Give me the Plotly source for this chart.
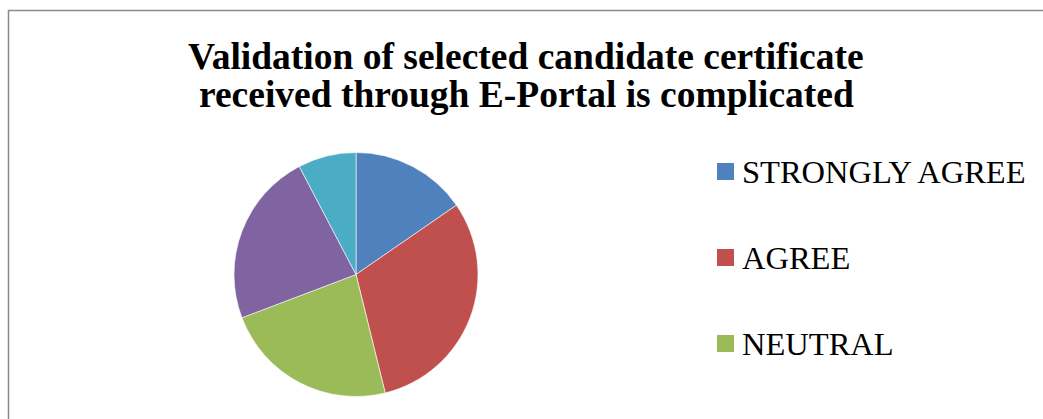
import plotly.graph_objects as go

# Data
categories = ["STRONGLY AGREE", "AGREE", "NEUTRAL", "DISAGREE", "STRONGLY DISAGREE"]
values = [12, 24, 18, 18, 6]
colors = ["#4F81BD", "#C0504D", "#9BBB59", "#8064A2", "#4BACC6"]
title_lines = ["Validation of selected candidate certificate",
               "received through E-Portal is complicated"]

W, H = 1043, 419
SERIF = "Liberation Serif"

def px_x(x):
    return x / W

def px_y(y):
    return 1 - y / H

cx, cy, r = 356, 274.5, 122

fig = go.Figure()
fig.add_trace(go.Pie(
    labels=categories, values=values,
    marker=dict(colors=colors, line=dict(color="white", width=0.6)),
    sort=False, direction="clockwise", rotation=0,
    textinfo="none", hoverinfo="label+value+percent",
    showlegend=False,
    domain=dict(x=[px_x(cx - r), px_x(cx + r)], y=[px_y(cy + r), px_y(cy - r)]),
))

shapes = []
annotations = []

# Chart frame (extends beyond visible area on right and bottom)
shapes.append(dict(type="rect", xref="paper", yref="paper",
                   x0=px_x(8.5), x1=1.05, y0=-0.1, y1=px_y(10.5),
                   line=dict(color="#8a8a8a", width=1.5), fillcolor="rgba(0,0,0,0)", layer="below"))

# Title (two lines, tight spacing)
title_y = [56, 94]
for line, yy in zip(title_lines, title_y):
    annotations.append(dict(text="<b>%s</b>" % line, xref="paper", yref="paper",
                            x=px_x(526), y=px_y(yy), xanchor="center", yanchor="middle",
                            showarrow=False,
                            font=dict(family=SERIF, size=37.5, color="black")))

# Legend (manual; only the first three entries fit in the visible area)
leg_y0 = 171.5
leg_gap = 86
for i, (cat, col) in enumerate(zip(categories[:3], colors[:3])):
    yc = leg_y0 + i * leg_gap
    shapes.append(dict(type="rect", xref="paper", yref="paper",
                       x0=px_x(717), x1=px_x(734), y0=px_y(yc + 8.5), y1=px_y(yc - 8.5),
                       line=dict(width=0), fillcolor=col))
    annotations.append(dict(text=cat, xref="paper", yref="paper",
                            x=px_x(740), y=px_y(yc), xanchor="left", yanchor="middle",
                            showarrow=False,
                            font=dict(family=SERIF, size=32.5, color="black")))

fig.update_layout(
    width=W, height=H,
    margin=dict(l=0, r=0, t=0, b=0),
    paper_bgcolor="white", plot_bgcolor="white",
    shapes=shapes, annotations=annotations,
    showlegend=False,
)

fig.write_html("out.html", config={"displayModeBar": False},
               post_script="document.body.style.margin='0';document.body.style.overflow='hidden';")
